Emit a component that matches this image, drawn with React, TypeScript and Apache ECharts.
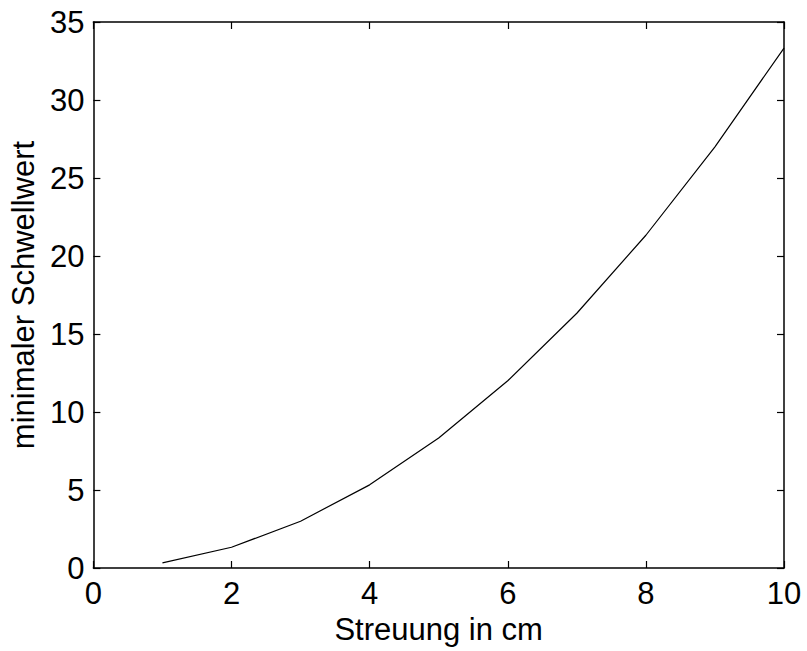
import React, { useEffect, useRef } from "react";
import * as echarts from "echarts";

const xValues = [1, 2, 3, 4, 5, 6, 7, 8, 9, 10];
const yValues = [0.33, 1.33, 3.0, 5.33, 8.33, 12.0, 16.33, 21.33, 27.0, 33.33];
const xTitle = "Streuung in cm";
const yTitle = "minimaler Schwellwert";

const FONT = "'Liberation Sans', Arial, sans-serif";
const FS = 31;

export default function App() {
  const ref = useRef<HTMLDivElement>(null);
  useEffect(() => {
    if (!ref.current) return;
    const chart = echarts.init(ref.current, undefined, { renderer: "svg" });
    const axisLine = { show: true, onZero: false, lineStyle: { color: "#000", width: 1.5 } };
    const tick = { show: true, inside: true, length: 7, lineStyle: { color: "#000", width: 1.2 } };
    chart.setOption({
      animation: false,
      backgroundColor: "#fff",
      grid: { left: 92, top: 22, right: 23, bottom: 83, containLabel: false },
      textStyle: { fontFamily: FONT },
      xAxis: [
        {
          type: "value",
          position: "bottom",
          min: 0,
          max: 10,
          interval: 2,
          name: xTitle,
          nameLocation: "middle",
          nameGap: 40,
          nameTextStyle: { fontSize: FS, color: "#000", fontFamily: FONT },
          axisLine,
          axisTick: tick,
          axisLabel: { fontSize: FS, color: "#000", margin: 10, fontFamily: FONT },
          splitLine: { show: false },
        },
        {
          type: "value",
          position: "top",
          min: 0,
          max: 10,
          interval: 2,
          axisLine,
          axisTick: tick,
          axisLabel: { show: false },
          splitLine: { show: false },
        },
      ],
      yAxis: [
        {
          type: "value",
          position: "left",
          min: 0,
          max: 35,
          interval: 5,
          name: yTitle,
          nameLocation: "middle",
          nameGap: 51,
          nameRotate: 90,
          nameTextStyle: { fontSize: FS, color: "#000", fontFamily: FONT },
          axisLine,
          axisTick: tick,
          axisLabel: { fontSize: FS, color: "#000", margin: 9, fontFamily: FONT },
          splitLine: { show: false },
        },
        {
          type: "value",
          position: "right",
          min: 0,
          max: 35,
          interval: 5,
          axisLine,
          axisTick: tick,
          axisLabel: { show: false },
          splitLine: { show: false },
        },
      ],
      series: [
        {
          type: "line",
          data: xValues.map((x, i) => [x, yValues[i]]),
          showSymbol: false,
          symbol: "none",
          lineStyle: { color: "#000", width: 1.2 },
          xAxisIndex: 0,
          yAxisIndex: 0,
        },
      ],
    });
    return () => chart.dispose();
  }, []);
  return (
    <div
      ref={ref}
      style={{ position: "fixed", left: 0, top: 0, width: 807, height: 651, background: "#fff" }}
    />
  );
}
